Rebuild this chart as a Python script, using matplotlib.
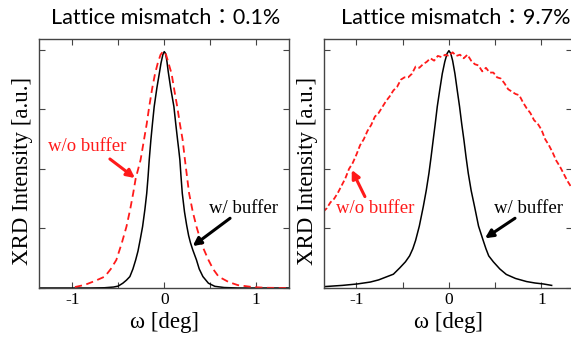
import matplotlib
matplotlib.use("Agg")
import matplotlib.pyplot as plt

# ---------- Data ----------
# left panel: lattice mismatch 0.1 %
left_buf_x = [-1.36, -0.8, -0.65, -0.55, -0.5, -0.45, -0.41, -0.373, -0.34, -0.31,
              -0.285, -0.26, -0.235, -0.21, -0.19, -0.175, -0.163, -0.145, -0.128, -0.109,
              -0.08, -0.054, -0.035, -0.015, 0.0, 0.015, 0.03, 0.043, 0.07, 0.105,
              0.125, 0.145, 0.158, 0.17, 0.182, 0.196, 0.22, 0.243, 0.265, 0.285,
              0.31, 0.35, 0.38, 0.42, 0.48, 0.55, 0.65, 0.8, 1.36]
left_buf_y = [0.0, 0.0, 0.001, 0.004, 0.008, 0.02, 0.033, 0.048, 0.08, 0.118,
              0.155, 0.205, 0.258, 0.33, 0.398, 0.47, 0.538, 0.622, 0.69, 0.762,
              0.84, 0.90, 0.945, 0.98, 0.993, 0.985, 0.95, 0.91, 0.84, 0.762,
              0.69, 0.622, 0.58, 0.538, 0.47, 0.398, 0.32, 0.265, 0.22, 0.19,
              0.16, 0.118, 0.08, 0.048, 0.02, 0.007, 0.002, 0.0, 0.0]

left_nobuf_x = [-0.97, -0.9, -0.85, -0.75, -0.645, -0.58, -0.52, -0.46, -0.41, -0.37,
                -0.337, -0.31, -0.257, -0.22, -0.19, -0.163, -0.13, -0.10, -0.07, -0.04,
                -0.01, 0.02, 0.05, 0.08, 0.11, 0.141, 0.17, 0.2, 0.225, 0.25,
                0.27, 0.31, 0.35, 0.41, 0.48, 0.53, 0.59, 0.7, 0.8, 0.96,
                1.1, 1.36]
left_nobuf_y = [0.004, 0.01, 0.015, 0.03, 0.048, 0.08, 0.118, 0.19, 0.258, 0.33,
                0.398, 0.46, 0.538, 0.622, 0.69, 0.762, 0.84, 0.90, 0.945, 0.98,
                0.995, 0.98, 0.94, 0.90, 0.83, 0.762, 0.69, 0.622, 0.538, 0.46,
                0.398, 0.32, 0.258, 0.18, 0.118, 0.08, 0.048, 0.025, 0.012, 0.004,
                0.001, 0.0]

# right panel: lattice mismatch 9.7 %
right_buf_x = [-1.34, -1.15, -0.99, -0.85, -0.76, -0.6, -0.53, -0.47, -0.425, -0.39,
               -0.36, -0.32, -0.277, -0.245, -0.216, -0.193, -0.17, -0.148, -0.126, -0.1,
               -0.072, -0.045, -0.02, 0.0, 0.02, 0.04, 0.065, 0.09, 0.115, 0.138,
               0.162, 0.185, 0.209, 0.24, 0.277, 0.32, 0.37, 0.4, 0.43, 0.48,
               0.55, 0.62, 0.72, 0.84, 0.93, 1.02, 1.11]
right_buf_y = [0.006, 0.011, 0.017, 0.025, 0.034, 0.058, 0.085, 0.11, 0.135, 0.165,
               0.20, 0.26, 0.342, 0.41, 0.482, 0.55, 0.622, 0.69, 0.762, 0.83,
               0.90, 0.95, 0.985, 0.997, 0.985, 0.955, 0.90, 0.83, 0.762, 0.69,
               0.622, 0.55, 0.482, 0.41, 0.342, 0.26, 0.20, 0.165, 0.135, 0.11,
               0.08, 0.057, 0.04, 0.027, 0.021, 0.017, 0.011]

right_nobuf_x = [-1.36, -1.32, -1.28, -1.24, -1.20, -1.16, -1.12, -1.08, -1.04, -1.00,
                 -0.96, -0.92, -0.88, -0.84, -0.80, -0.76, -0.72, -0.68, -0.64, -0.60,
                 -0.56, -0.52, -0.48, -0.44, -0.40, -0.36, -0.32, -0.28, -0.24, -0.20,
                 -0.16, -0.12, -0.08, -0.04, 0.00, 0.04, 0.08, 0.12, 0.16, 0.20,
                 0.24, 0.28, 0.32, 0.36, 0.40, 0.44, 0.48, 0.52, 0.56, 0.60,
                 0.64, 0.68, 0.72, 0.76, 0.80, 0.84, 0.88, 0.92, 0.96, 1.00,
                 1.04, 1.08, 1.12, 1.16, 1.20, 1.24, 1.28, 1.32]
right_nobuf_y = [0.32, 0.335, 0.36, 0.375, 0.40, 0.43, 0.46, 0.50, 0.525, 0.56,
                 0.60, 0.625, 0.66, 0.685, 0.72, 0.735, 0.76, 0.785, 0.805, 0.83,
                 0.845, 0.875, 0.885, 0.885, 0.90, 0.93, 0.925, 0.94, 0.95, 0.965,
                 0.955, 0.975, 0.97, 0.98, 0.975, 0.99, 0.975, 0.98, 0.965, 0.98,
                 0.955, 0.94, 0.935, 0.91, 0.925, 0.905, 0.905, 0.885, 0.88, 0.86,
                 0.835, 0.825, 0.815, 0.81, 0.78, 0.755, 0.735, 0.705, 0.69, 0.665,
                 0.625, 0.60, 0.57, 0.535, 0.51, 0.48, 0.45, 0.425]

titles = ["Lattice mismatch\uff1a0.1%", "Lattice mismatch\uff1a9.7%"]
x_ticks = [-1, -0.5, 0, 0.5, 1]
x_tick_labels = ["-1", "", "0", "", "1"]
y_ticks = [0, 0.25, 0.5, 0.75, 1.0]

SERIF = "Liberation Serif"
TITLE_FONT = ["Lato", "Noto Sans CJK JP", "DejaVu Sans"]
RED = "#ff1a1a"
SPINE = "#444444"


def style_axes(ax, xlim):
    ax.set_xlim(*xlim)
    ax.set_ylim(0, 1.046)
    ax.set_xticks(x_ticks)
    ax.set_xticklabels(x_tick_labels, fontfamily=SERIF, fontsize=12.5)
    ax.set_yticks(y_ticks)
    ax.set_yticklabels([])
    ax.tick_params(direction="in", length=4, width=0.8, color=SPINE,
                   top=True, right=True, pad=3)
    for s in ax.spines.values():
        s.set_color(SPINE)
        s.set_linewidth(1.0)
    ax.set_xlabel("\u03c9 [deg]", fontfamily=SERIF, fontsize=16.5, labelpad=3)
    ax.set_ylabel("XRD Intensity [a.u.]", fontfamily=SERIF, fontsize=16.5)
    ax.yaxis.set_label_coords(-0.025, 0.47)


def arrow(ax, text, txy, tail, tip, color):
    ax.text(txy[0], txy[1], text, color=color, fontfamily=SERIF, fontsize=13.5,
            ha="center", va="center")
    ax.annotate("", xy=tip, xytext=tail,
                arrowprops=dict(arrowstyle="-|>", color=color, lw=2.2,
                                mutation_scale=12, shrinkA=0, shrinkB=0))


fig = plt.figure(figsize=(5.71, 3.38), dpi=100)

# ---------- Left panel ----------
ax1 = fig.add_axes([39 / 571, 50 / 338, 250 / 571, 249 / 338])
ax1.plot(left_buf_x, left_buf_y, color="black", lw=1.1)
ax1.plot(left_nobuf_x, left_nobuf_y, color=RED, lw=1.3, ls=(0, (4, 2.5)))
style_axes(ax1, (-1.36, 1.355))
arrow(ax1, "w/o buffer", (-0.837, 0.594), (-0.59, 0.542), (-0.318, 0.462), RED)
arrow(ax1, "w/ buffer", (0.859, 0.335), (0.715, 0.293), (0.309, 0.176), "black")
ax1.text(0.505, 1.045, titles[0], transform=ax1.transAxes, ha="center", va="bottom",
         fontsize=15.5, family=TITLE_FONT)

# ---------- Right panel ----------
ax2 = fig.add_axes([324 / 571, 50 / 338, 248 / 571, 249 / 338])
ax2.plot(right_buf_x, right_buf_y, color="black", lw=1.1)
ax2.plot(right_nobuf_x, right_nobuf_y, color=RED, lw=1.3, ls=(0, (3, 1.5)))
style_axes(ax2, (-1.35, 1.33))
arrow(ax2, "w/o buffer", (-0.80, 0.335), (-0.908, 0.384), (-1.05, 0.496), RED)
arrow(ax2, "w/ buffer", (0.857, 0.335), (0.714, 0.293), (0.39, 0.209), "black")
ax2.text(0.53, 1.045, titles[1], transform=ax2.transAxes, ha="center", va="bottom",
         fontsize=15.5, family=TITLE_FONT)

fig.savefig("out.png", dpi=100)
